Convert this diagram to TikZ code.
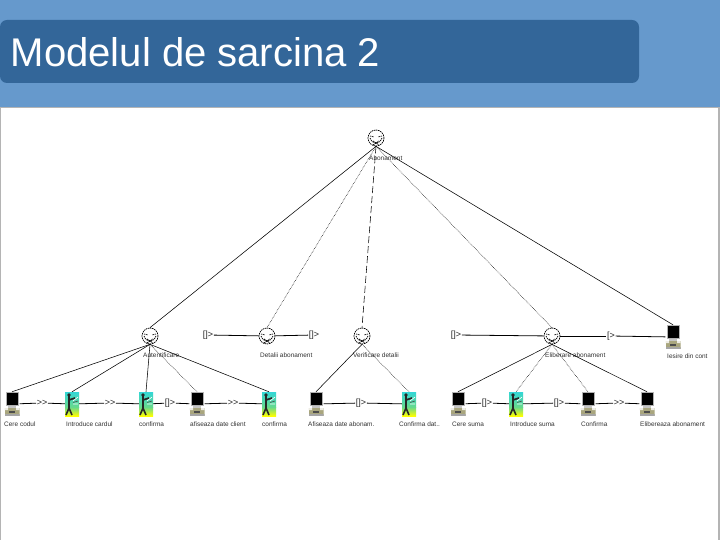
\documentclass[tikz,border=0pt]{standalone}
\usepackage{fontspec}
\setmainfont{Liberation Sans}
\usetikzlibrary{calc}
\definecolor{bandblue}{HTML}{6699CC}
\definecolor{titleblue}{HTML}{336699}
\definecolor{pageline}{HTML}{B4B4B4}
\definecolor{baseolive}{HTML}{A9A67E}
\tikzset{abstracttask/.style={circle,minimum size=16bp,inner sep=0,draw,dash pattern=on 1.5bp off 0.7bp,line width=0.7bp,
           path picture={\begin{scope}[shift={(path picture bounding box.center)}]
             \draw[line width=0.7bp,dash pattern=on 1.5bp off 0.7bp] (-6,-2) -- (-2,-1) (6,-2) -- (2,-1);
             \draw[line width=0.7bp,dash pattern=on 1.5bp off 0.7bp] (-6,0) .. controls (-3,7) and (3,7) .. (6,0);
             \draw[line width=0.7bp,dash pattern=on 1.5bp off 0.7bp] (-3,7) -- (3,3) (-3,3) -- (3,7);
           \end{scope}}},
         systemtask/.style={rectangle,minimum width=15bp,minimum height=24bp,inner sep=0,
           path picture={\begin{scope}[shift={(path picture bounding box.center)}]
             \fill[gray!60] (-6.5,-12) rectangle (6.5,2);
             \fill[black] (-5.5,-11) rectangle (5.5,1);
             \fill[gray!45] (-4,2) rectangle (4,4);
             \fill[baseolive] (-7.5,4) rectangle (7.5,12);
             \fill[black!70] (-3,7) rectangle (3,9);
             \fill[white!80!baseolive] (-7.5,4) rectangle (-4,6) (4,4) rectangle (7.5,6);
             \fill[gray!70] (-7.5,10) rectangle (7.5,12);
           \end{scope}}},
         usertask/.style={rectangle,minimum width=14bp,minimum height=24bp,inner sep=0,
           path picture={\begin{scope}[shift={(path picture bounding box.center)}]
             \fill[top color=cyan!60!teal!80,bottom color=green!50!teal!60] (-7,-12) rectangle (7,3);
             \fill[top color=green!50!teal!60,bottom color=yellow] (-7,3) rectangle (7,12);
             \fill[black!85] (-3,-9) circle (1.8);
             \draw[black!85,line width=1.6bp] (-3,-8) -- (-3,4) (-3,4) -- (-6,11) (-3,4) -- (0,11) (-3,-4) -- (3,-6);
             \draw[white,line width=0.6bp] (1,-3) -- (6,-7) (1,0) -- (6,0);
             \draw[black!70,line width=0.6bp] (1,-1.5) -- (6,-3);
           \end{scope}}},
         tasklabel/.style={anchor=west,inner sep=0,text=black!80,font=\fontsize{6.5}{7}\selectfont},
         oplabel/.style={inner sep=0.5bp,text=black!85,font=\fontsize{9}{9}\selectfont},
         hierline/.style={line width=0.55bp},
         hierdots/.style={line width=0.55bp,densely dotted},
         hierdash/.style={line width=0.55bp,dash pattern=on 7bp off 3bp},
         opline/.style={line width=0.8bp}
}
\begin{document}
\begin{tikzpicture}[x=1bp,y=-1bp]
  \useasboundingbox (0,0) rectangle (720,540);
  \fill[bandblue] (0,0) rectangle (720,107);
  \fill[white] (0,107) rectangle (720,540);
  \draw[pageline,line width=1.5bp] (0.5,107.5) -- (719,107.5) -- (719,540) (0.5,107.5) -- (0.5,540);
  \fill[titleblue,rounded corners=7bp] (0,20) rectangle (639,83);
  \node[anchor=base west,inner sep=0,text=white,font=\fontsize{40.2}{44}\selectfont] (title) at (10.5,67) {Modelul de sarcina 2};

  % top of the tree
  \node[abstracttask] (abon) at (376,138) {};
  \node[tasklabel] (abonl) at (369,158) {Abonament};

  % second row
  \node[abstracttask] (auth) at (150,336) {};
  \node[abstracttask] (det) at (267,336) {};
  \node[abstracttask] (verif) at (362,336) {};
  \node[abstracttask] (elib) at (552,336) {};
  \node[systemtask] (iesire) at (673,337) {};
  \node[tasklabel] (authl) at (143,355) {Autentificare};
  \node[tasklabel] (detl) at (260,355) {Detalii abonament};
  \node[tasklabel] (verifl) at (353,355) {Verificare detalii};
  \node[tasklabel] (elibl) at (545,355) {Eliberare abonament};
  \node[tasklabel] (iesirel) at (667,356) {Iesire din cont};

  % third row
  \node[systemtask] (cere) at (12,404) {};
  \node[usertask] (intro) at (72,404) {};
  \node[usertask] (conf) at (146,404) {};
  \node[systemtask] (afis) at (197,404) {};
  \node[usertask] (confb) at (269,404) {};
  \node[systemtask] (afisab) at (316,404) {};
  \node[usertask] (confab) at (409,404) {};
  \node[systemtask] (ceres) at (458,404) {};
  \node[usertask] (intros) at (516,404) {};
  \node[systemtask] (confs) at (588,404) {};
  \node[systemtask] (elibab) at (647,404) {};
  \node[tasklabel] (cerel) at (4,424) {Cere codul};
  \node[tasklabel] (introl) at (66,424) {Introduce cardul};
  \node[tasklabel] (confl) at (139,424) {confirma};
  \node[tasklabel] (afisl) at (190,424) {afiseaza date client};
  \node[tasklabel] (confbl) at (262,424) {confirma};
  \node[tasklabel] (afisabl) at (308,424) {Afiseaza date abonam.};
  \node[tasklabel] (confabl) at (399,424) {Confirma dat..};
  \node[tasklabel] (ceresl) at (452,424) {Cere suma};
  \node[tasklabel] (introsl) at (510,424) {Introduce suma};
  \node[tasklabel] (confsl) at (581,424) {Confirma};
  \node[tasklabel] (elibabl) at (640,424) {Elibereaza abonament};

  % operators
  \node[oplabel] (o1) at (208,335) {{[}{]}>};
  \node[oplabel] (o2) at (314,335) {{[}{]}>};
  \node[oplabel] (o3) at (456,335) {{[}{]}>};
  \node[oplabel] (o4) at (611,336) {{[}>};
  \node[oplabel] (r1) at (42,403) {>{}>};
  \node[oplabel] (r2) at (110,403) {>{}>};
  \node[oplabel] (r3) at (170,403) {{[}{]}>};
  \node[oplabel] (r4) at (233,403) {>{}>};
  \node[oplabel] (r5) at (361,403) {{[}{]}>};
  \node[oplabel] (r6) at (487,403) {{[}{]}>};
  \node[oplabel] (r7) at (559,403) {{[}{]}>};
  \node[oplabel] (r8) at (619,403) {>{}>};

  \draw[hierline] (abon.south) -- (auth.north);
  \draw[hierdots] (abon.south) -- (det.north);
  \draw[hierdash] (abon.south) -- (verif.north);
  \draw[hierdots] (abon.south) -- (elib.north);
  \draw[hierline] (abon.south) -- (iesire.north);

  \draw[hierline] (auth.south) -- (cere.north);
  \draw[hierline] (auth.south) -- (intro.north);
  \draw[hierline] (auth.south) -- (conf.north);
  \draw[hierdots] (auth.south) -- (afis.north);
  \draw[hierline] (auth.south) -- (confb.north);
  \draw[hierline] (verif.south) -- (afisab.north);
  \draw[hierdots] (verif.south) -- (confab.north);
  \draw[hierline] (elib.south) -- (ceres.north);
  \draw[hierdots] (elib.south) -- (intros.north);
  \draw[hierdots] (elib.south) -- (confs.north);
  \draw[hierline] (elib.south) -- (elibab.north);

  \draw[opline] (o1) -- (det);
  \draw[opline] (det) -- (o2);
  \draw[opline] (o3) -- (elib);
  \draw[opline] (elib) -- (o4);
  \draw[opline] (o4) -- (iesire);
  \draw[opline] (cere) -- (r1);
  \draw[opline] (r1) -- (intro);
  \draw[opline] (intro) -- (r2);
  \draw[opline] (r2) -- (conf);
  \draw[opline] (conf) -- (r3);
  \draw[opline] (r3) -- (afis);
  \draw[opline] (afis) -- (r4);
  \draw[opline] (r4) -- (confb);
  \draw[opline] (afisab) -- (r5);
  \draw[opline] (r5) -- (confab);
  \draw[opline] (ceres) -- (r6);
  \draw[opline] (r6) -- (intros);
  \draw[opline] (intros) -- (r7);
  \draw[opline] (r7) -- (confs);
  \draw[opline] (confs) -- (r8);
  \draw[opline] (r8) -- (elibab);
\end{tikzpicture}
\end{document}
